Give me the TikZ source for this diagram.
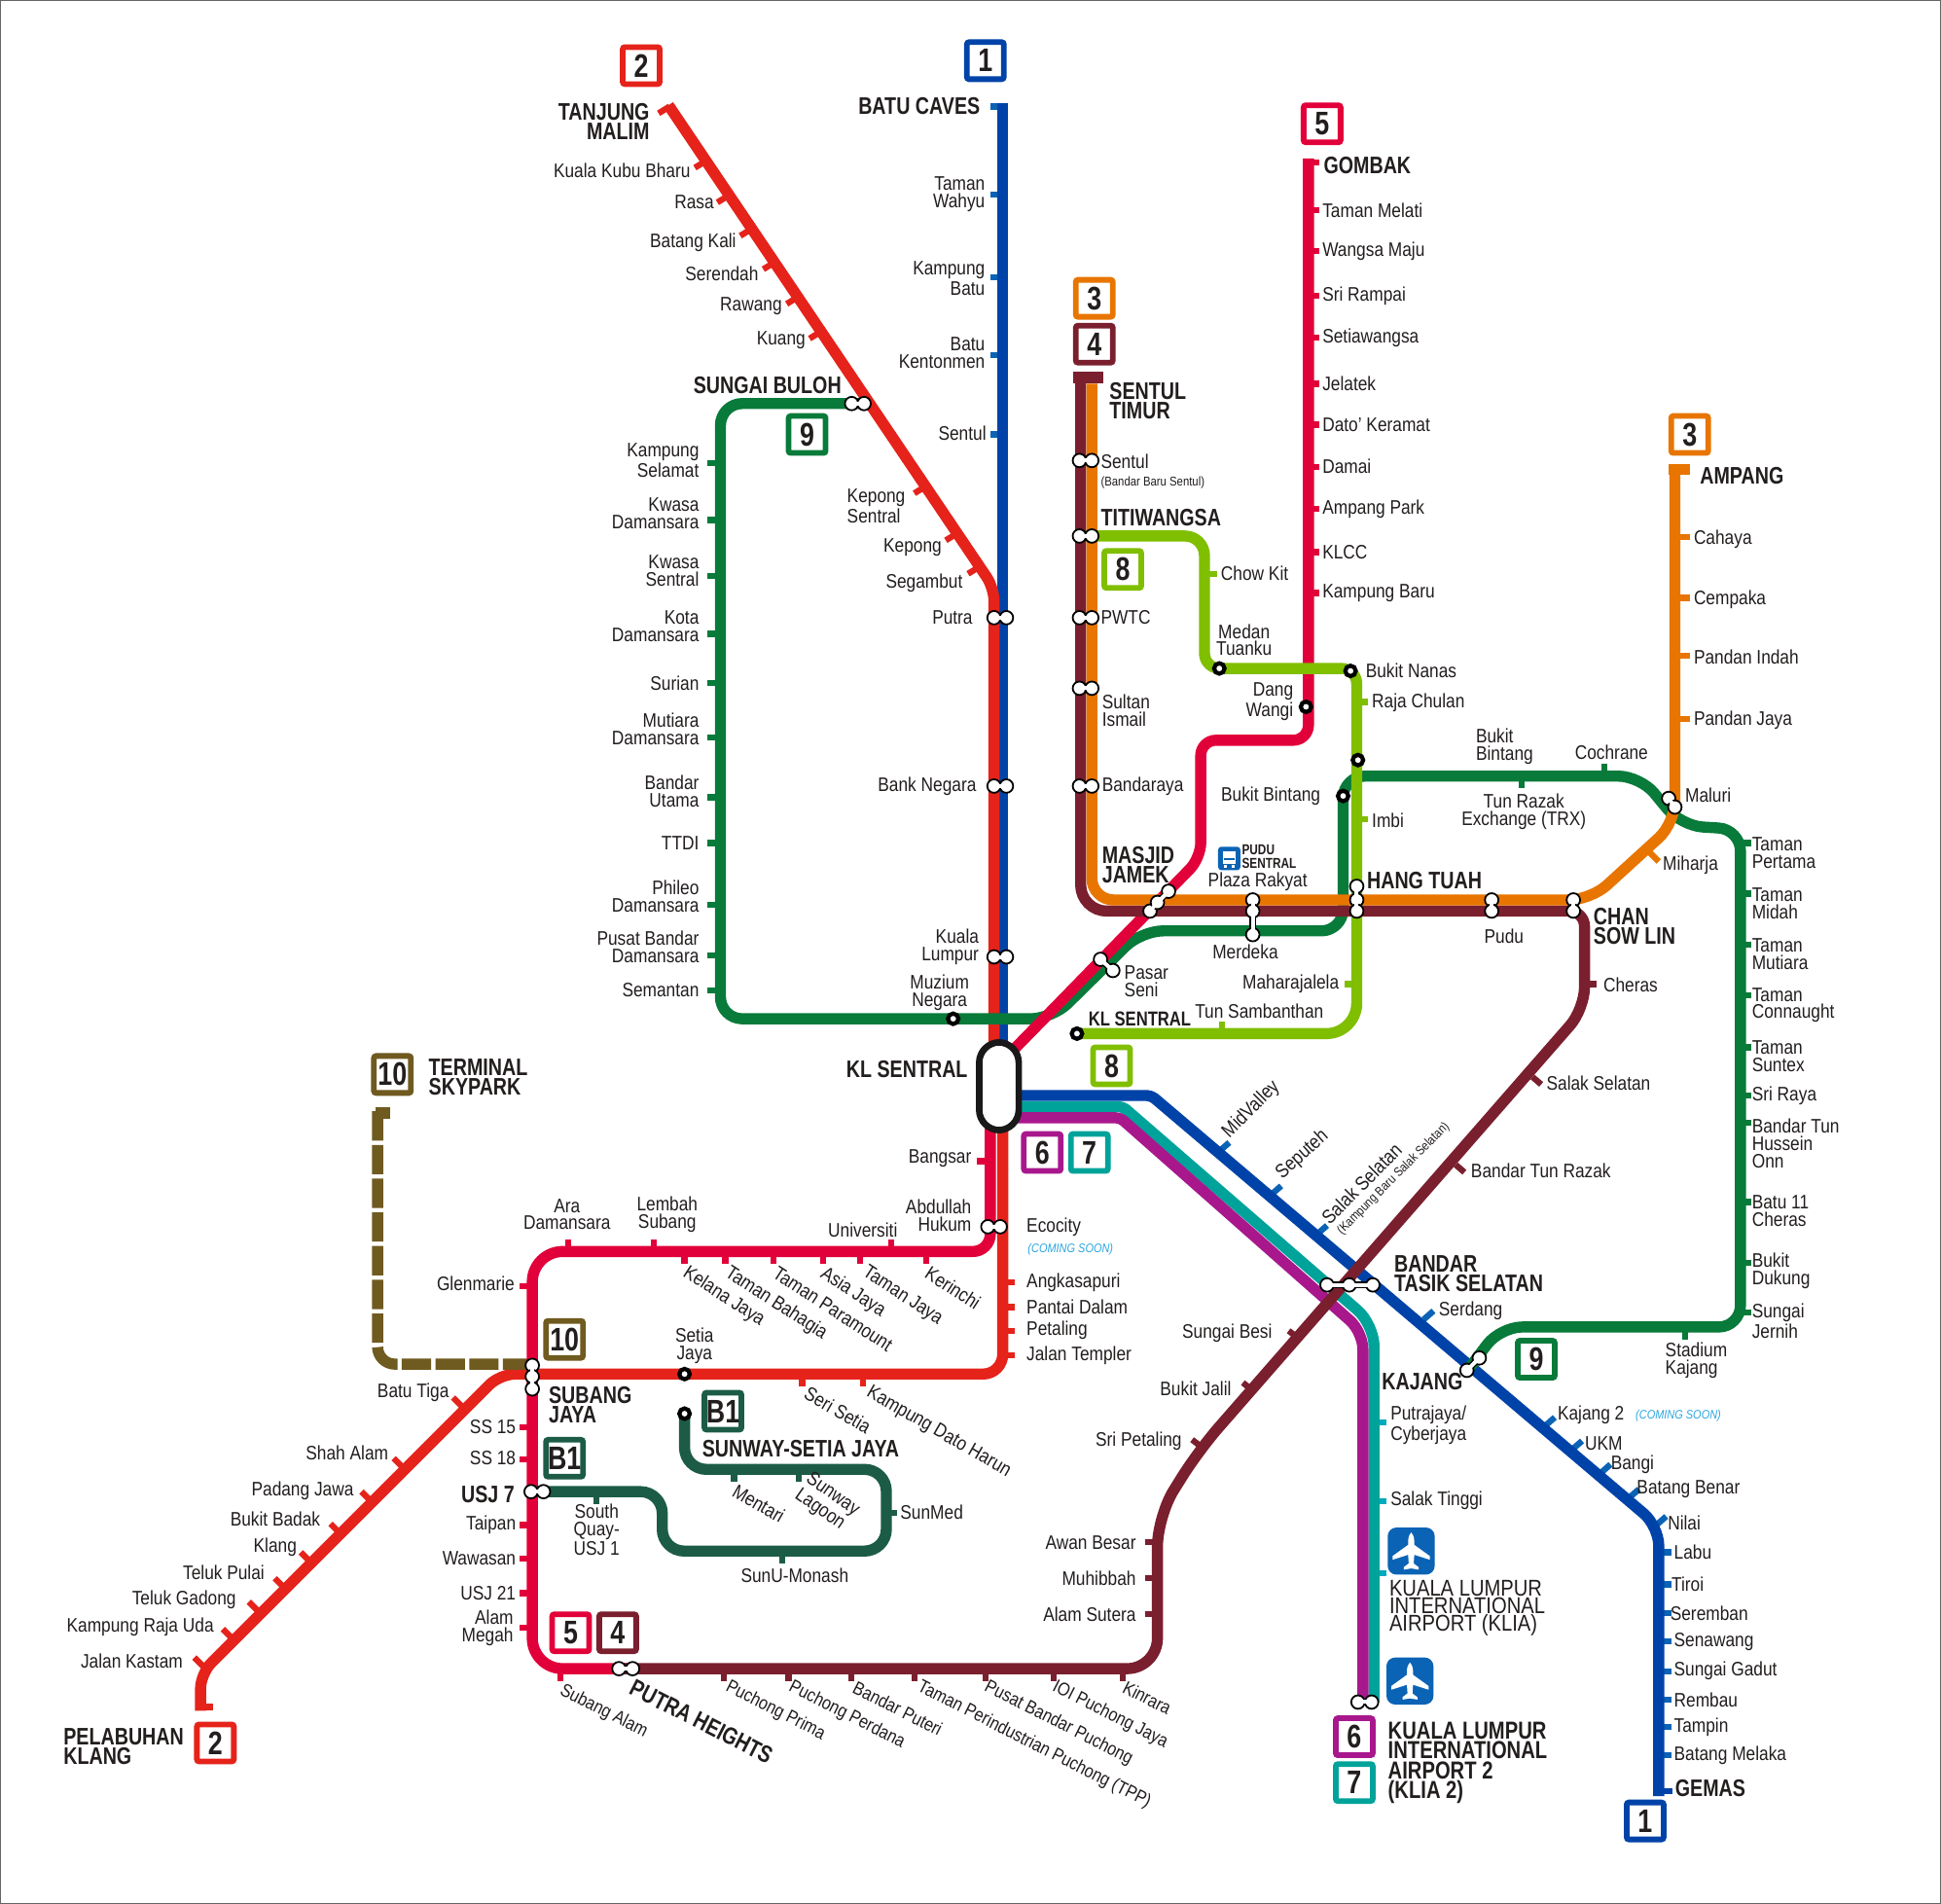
\documentclass[tikz,border=0pt]{standalone}
\usepackage{fontspec}
\setmainfont[FakeStretch=0.86,BoldFeatures={FakeStretch=0.80}]{Liberation Sans}
\definecolor{cBlue}{RGB}{0,67,168}
\definecolor{cRed}{RGB}{229,35,27}
\definecolor{cCrim}{RGB}{226,0,58}
\definecolor{cMaroon}{RGB}{122,31,46}
\definecolor{cOrange}{RGB}{232,117,0}
\definecolor{cGreen}{RGB}{8,122,58}
\definecolor{cLime}{RGB}{128,190,0}
\definecolor{cTeal}{RGB}{0,163,154}
\definecolor{cPurple}{RGB}{168,24,140}
\definecolor{cBrown}{RGB}{111,90,32}
\definecolor{cDark}{RGB}{28,92,70}
\definecolor{cSky}{RGB}{43,166,224}
\definecolor{cIcon}{RGB}{10,99,181}
\definecolor{cTealT}{RGB}{0,170,190}
\definecolor{cText}{RGB}{35,30,30}
\tikzset{
 ln/.style={line width=5.1pt,line join=round},
 tk/.style={line width=2.8pt},
 lb/.style={inner sep=0pt,text=cText,font=\fontsize{9}{8}\selectfont},
 lbb/.style={inner sep=0pt,text=cText,font=\fontsize{8.5}{8}\selectfont},
 bd/.style={inner sep=0pt,text=cText,font=\fontsize{11}{9}\selectfont\bfseries},
 sm/.style={inner sep=0pt,text=cText,font=\fontsize{5.9}{6}\selectfont},
 soon/.style={inner sep=0pt,text=cSky,font=\fontsize{5.7}{6}\selectfont\itshape},
 badge/.style={draw=#1,line width=2.6pt,fill=white,rounded corners=1pt,minimum size=17pt,inner sep=0pt,text=cText,font=\fontsize{15}{15}\selectfont\bfseries},
 ringst/.style={draw=black,fill=white,line width=1.9pt},
}
\newcommand\xR[3]{\node[lb,anchor=west,align=left] at (#1,#2) {#3};}
\newcommand\xL[3]{\node[lb,anchor=east,align=right] at (#1,#2) {#3};}
\newcommand\xC[3]{\node[lb,anchor=center,align=center] at (#1,#2) {#3};}
\newcommand\xT[4]{\node[lb,anchor=west,rotate=#3,align=left] at (#1,#2) {#4};}
\newcommand\xB[3]{\node[lbb,anchor=west,rotate=-27] at (#1,#2) {#3};}
\newcommand\bR[3]{\node[bd,anchor=west,align=left] at (#1,#2) {#3};}
\newcommand\bL[3]{\node[bd,anchor=east,align=right] at (#1,#2) {#3};}
\newcommand\bdg[4]{\node[badge=#3] at (#1,#2) {#4};}
\newcommand\ic[1]{%
 \draw[black,line width=3pt] plot coordinates {#1};
 \draw[draw=none] plot[mark=*,mark size=3.1pt,mark options={draw=black,fill=white,line width=0.8pt}] coordinates {#1};
 \draw[white,line width=1.8pt] plot coordinates {#1};}
\newcommand\rng[2]{\draw[ringst] (#1,#2) circle (2.4pt);}
\newcommand\plane[2]{%
 \fill[cIcon,rounded corners=4pt] (#1-19,#2-19) rectangle (#1+19,#2+19);
 \begin{scope}[shift={(#1,#2)}]
 \fill[white] (0,-15) .. controls (2.5,-12) and (2.5,-10) .. (2.5,-5) -- (15,4) -- (15,7) -- (2.5,3) -- (2,10) -- (6,13) -- (6,15) -- (0,14) -- (-6,15) -- (-6,13) -- (-2,10) -- (-2.5,3) -- (-15,7) -- (-15,4) -- (-2.5,-5) .. controls (-2.5,-10) and (-2.5,-12) .. (0,-15) -- cycle;
 \end{scope}}
\begin{document}
\begin{tikzpicture}[x=0.02cm,y=-0.02cm]
\useasboundingbox (0,0) rectangle (1568,1538);
\fill[white] (0,0) rectangle (1568,1538);
\draw[black!60,line width=0.5pt] (0,0) rectangle (1568,1538);
% --- ticks first
\foreach \y in {86,157,224,287,351} \draw[tk,cIcon] (810,\y) -- ++(-10,0);
\foreach \x/\y in {541/86,570.3/130,588.5/158,607/185,625.6/212,644.5/240,663/268,747.6/393,773/431,791/458} \draw[tk,cRed] (\x,\y) -- ++(-9,5.5);
\foreach \y in {374,420,465,512,552,596,644,681,731,772,800} \draw[tk,cGreen] (582,\y) -- (571,\y);
\foreach \y in {131,170,203,239,273,310,343,377,411,446,479} \draw[tk,cCrim] (1057,\y) -- ++(9,0);
\foreach \y in {434,483,530,581} \draw[tk,cOrange] (1353,\y) -- (1365,\y);
\foreach \y in {681,722,763,804,846,885,907,971,1020,1060} \draw[tk,cGreen] (1406,\y) -- ++(9,0);
\foreach \y in {1254,1280,1303,1326,1350,1373,1395,1418} \draw[tk,cIcon] (1340,\y) -- ++(10,0);
\foreach \x/\y in {985/930,1027/965,1064/997,1150/1066,1248/1152,1270/1171,1293/1190,1316/1210,1338/1232} \draw[tk,cIcon] (\x,\y) -- ++(8,-7);
\draw[tk,cBlue] (1340,1447) -- (1351,1447);
\foreach \y in {1149,1213,1271} \draw[tk,cTealT] (1110,\y) -- ++(10,0);
\foreach \y in {1036,1056,1075,1095} \draw[tk,cRed] (810,\y) -- ++(10,0);
\draw[tk,cCrim] (800,938) -- (789,938);
\foreach \x/\y in {369/1132,321/1181,295/1208,270/1234,246/1257,225/1278,204/1297,183/1319,160/1342} \draw[tk,cRed] (\x+6,\y+6) -- (\x-3,\y-3);
\draw[tk,cRed] (162,1379) -- (172,1379);
\foreach \y in {1039,1153,1179,1232,1259,1287,1315} \draw[tk,cCrim] (430,\y) -- (420,\y);
\foreach \x in {459,528,720} \draw[tk,cCrim] (\x,1011) -- ++(0,-10);
\foreach \x in {553,586,625,665,695,748} \draw[tk,cCrim] (\x,1011) -- ++(0,10);
\draw[tk,cCrim] (453,1348) -- ++(0,10);
\foreach \x in {585,637,688,739,796,851,907} \draw[tk,cMaroon] (\x,1348) -- ++(0,10);
\foreach \y in {1246,1275,1304} \draw[tk,cMaroon] (935,\y) -- (925,\y);
\foreach \x/\y in {1050/1082,1013/1124,972/1170} \draw[tk,cMaroon] (\x,\y) -- ++(-9,-7);
\foreach \x/\y in {1238/870,1176/941} \draw[tk,cMaroon] (\x,\y) -- ++(7,6);
\draw[tk,cMaroon] (1280,795) -- ++(10,0);
\foreach \x/\y in {648/1110,697/1110} \draw[tk,cRed] (\x,\y) -- ++(0,10);
\foreach \x/\y in {593/1187,645/1187} \draw[tk,cDark] (\x,\y) -- ++(0,10);
\draw[tk,cDark] (482,1205) -- ++(0,10);
\draw[tk,cDark] (632,1253) -- ++(0,10);
\draw[tk,cDark] (716,1222) -- ++(9,0);
\draw[tk,cLime] (973,464) -- ++(10,0);
\draw[tk,cLime] (1096,567) -- ++(9,0);
\draw[tk,cLime] (1096,662) -- ++(9,0);
\draw[tk,cLime] (1096,795) -- ++(-10,0);
\draw[tk,cLime] (987,835) -- ++(0,-10);
\draw[tk,cGreen] (1229,627) -- ++(0,10);
\draw[tk,cGreen] (1296,627) -- ++(0,-10);
\draw[tk,cGreen] (1361,1072) -- ++(0,10);
\draw[tk,cOrange] (1332,688) -- ++(8,8);
% --- lines
\draw[ln,cBlue] (810,83) -- (810,850);
\draw[ln,cBlue] (815,885) [rounded corners=2pt] -- (930,885) [rounded corners=9pt] -- (1340,1233) -- (1340,1451);
\draw[ln,cRed,rounded corners=6pt] (540,85) -- (803,475) -- (803,850);
\draw[ln,cRed] (810,905) [rounded corners=9pt] -- (810,1110) [rounded corners=7pt] -- (404,1110) -- (162,1352) -- (162,1382);
\draw[ln,cTeal] (815,894) [rounded corners=2pt] -- (907,894) [rounded corners=10pt] -- (1110,1070) -- (1110,1375);
\draw[ln,cPurple] (815,903) [rounded corners=2pt] -- (905,903) [rounded corners=8pt] -- (1101,1076) -- (1101,1375);
\draw[ln,cBrown,dash pattern=on 13.5pt off 2pt,rounded corners=8pt] (430,1102) -- (305,1102) -- (305,895);
\draw[ln,cBrown] (303,899) -- (315,899);
\draw[ln,cGreen,rounded corners=10pt] (700,326) -- (582,326) -- (582,823) -- (850,823) -- (922,752) -- (1085,752) -- (1085,627) -- (1325,627) -- (1358,667) -- (1406,670) -- (1406,1072) -- (1212,1072) -- (1187,1105);
\draw[ln,cCrim,rounded corners=7pt] (1057,128) -- (1057,598) -- (970,598) -- (970,693) -- (812,855);
\draw[ln,cCrim] (800,905) [rounded corners=8pt] -- (800,1011) [rounded corners=14pt] -- (430,1011) -- (430,1348) -- (510,1348);
\draw[ln,cDark,rounded corners=10pt] (430,1205) -- (535,1205) -- (535,1253) -- (716,1253) -- (716,1187) -- (553,1187) -- (553,1143);
\draw[ln,cMaroon] (500,1348) [rounded corners=14pt] -- (935,1348) -- (935,1225) -- (968,1172) [rounded corners=10pt] -- (1280,815) [rounded corners=7pt] -- (1280,736) [rounded corners=12pt] -- (873,736) -- (873,303);
\draw[ln,cMaroon] (867,305) -- (891,305);
\draw[ln,cOrange,rounded corners=10pt] (882,310) -- (882,727) -- (1285,727) -- (1353,665) -- (1353,378);
\draw[ln,cOrange] (1348,379) -- (1365,379);
\draw[ln,cLime] (870,835) [rounded corners=14pt] -- (1096,835) [rounded corners=7pt] -- (1096,540) -- (973,540) [rounded corners=9pt] -- (973,433) -- (877,433);
% --- KL Sentral
\draw[line width=3pt,draw=black!90,fill=white,rounded corners=9.4pt] (791,842) rectangle (823,913);
% --- interchanges
\ic{(688,326)(698,326)}
\ic{(803,499)(813,499)}
\ic{(803,635)(813,635)}
\ic{(803,773)(813,773)}
\ic{(798,991)(808,991)}
\ic{(872,372)(882,372)}
\ic{(872,433)(882,433)}
\ic{(872,499)(882,499)}
\ic{(872,556)(882,556)}
\ic{(872,635)(882,635)}
\ic{(929,736)(935,729)(944,720)}
\ic{(1096,716)(1096,727)(1096,736)}
\ic{(1012,727)(1012,736)(1012,755)}
\ic{(889,775)(899,784)}
\ic{(1205,727)(1205,736)}
\ic{(1271,727)(1271,736)}
\ic{(1348,645)(1353,652)}
\ic{(1185,1107)(1195,1097)}
\ic{(1072,1038)(1090,1038)(1109,1038)}
\ic{(1097,1375)(1108,1375)}
\ic{(430,1103)(430,1112)(430,1122)}
\ic{(429,1205)(439,1205)}
\ic{(500,1348)(511,1348)}
\rng{985}{540}\rng{1091}{542}\rng{1055}{571}\rng{1097}{614}\rng{1085}{643}
\rng{870}{835}\rng{770}{823}\rng{553}{1110}\rng{553}{1142}
% --- badges
\bdg{518}{53}{cRed}{2}\bdg{796}{49}{cBlue}{1}\bdg{1068}{100}{cCrim}{5}
\bdg{884}{241}{cOrange}{3}\bdg{884}{278}{cMaroon}{4}\bdg{652}{351}{cGreen}{9}
\bdg{907}{460}{cLime}{8}\bdg{1365}{351}{cOrange}{3}\bdg{898}{861}{cLime}{8}
\bdg{842}{931}{cPurple}{6}\bdg{880}{931}{cTeal}{7}\bdg{317}{868}{cBrown}{10}
\bdg{456}{1082}{cBrown}{10}\bdg{584}{1140}{cDark}{B1}\bdg{456}{1178}{cDark}{B1}
\bdg{461}{1319}{cCrim}{5}\bdg{499}{1319}{cMaroon}{4}\bdg{174}{1408}{cRed}{2}
\bdg{1094}{1403}{cPurple}{6}\bdg{1094}{1440}{cTeal}{7}\bdg{1241}{1098}{cGreen}{9}
\bdg{1329}{1471}{cBlue}{1}
% --- icons
\plane{1140}{1253}\plane{1139}{1358}
\fill[cIcon,rounded corners=1.5pt] (984,684) rectangle (1002,703);
\fill[white] (988,688) rectangle (998,698);
\fill[white] (989,699) rectangle (991,701);
\fill[white] (995,699) rectangle (997,701);
\fill[cIcon] (989,693.5) rectangle (997,695);
% --- labels line 2
\bL{525}{98}{TANJUNG\\MALIM}
\xL{558}{138}{Kuala Kubu Bharu}\xL{577}{163}{Rasa}\xL{595}{196}{Batang Kali}
\xL{613}{221}{Serendah}\xL{632}{247}{Rawang}\xL{651}{275}{Kuang}
\xR{684}{409}{Kepong\\Sentral}\xL{761}{442}{Kepong}\xL{778}{471}{Segambut}\xL{786}{499}{Putra}
% line 1
\bL{792}{86}{BATU CAVES}
\xL{796}{157}{Taman\\Wahyu}\xL{796}{225}{Kampung\\Batu}\xL{796}{285}{Batu\\Kentonmen}\xL{797}{350}{Sentul}
\xL{789}{635}{Bank Negara}\xL{791}{765}{Kuala\\Lumpur}\xC{759}{802}{Muzium\\Negara}
% line 9 left
\bL{680}{311}{SUNGAI BULOH}
\xL{565}{372}{Kampung\\Selamat}\xL{565}{415}{Kwasa\\Damansara}\xL{565}{461}{Kwasa\\Sentral}
\xL{565}{506}{Kota\\Damansara}\xL{565}{552}{Surian}\xL{565}{589}{Mutiara\\Damansara}
\xL{565}{639}{Bandar\\Utama}\xL{565}{681}{TTDI}\xL{565}{724}{Phileo\\Damansara}
\xL{565}{765}{Pusat Bandar\\Damansara}\xL{565}{800}{Semantan}
% line 3/4
\bR{896}{324}{SENTUL\\TIMUR}\xR{889}{373}{Sentul}
\node[sm,anchor=west] at (889,390) {(Bandar Baru Sentul)};
\bR{889}{418}{TITIWANGSA}\xR{889}{499}{PWTC}\xR{890}{574}{Sultan\\Ismail}\xR{890}{635}{Bandaraya}
\bR{890}{699}{MASJID\\JAMEK}
% line 8
\xR{986}{463}{Chow Kit}\xC{1005}{517}{Medan\\Tuanku}\xR{1103}{542}{Bukit Nanas}\xR{1108}{568}{Raja Chulan}
\xR{1108}{663}{Imbi}\xL{1082}{795}{Maharajalela}\xR{965}{817}{Tun Sambanthan}
\node[bd,anchor=west,font=\fontsize{9.3}{9}\selectfont\bfseries] at (879,823) {KL SENTRAL};
\bR{1104}{711}{HANG TUAH}
% line 5
\bR{1069}{134}{GOMBAK}
\xR{1068}{170}{Taman Melati}\xR{1068}{203}{Wangsa Maju}\xR{1068}{239}{Sri Rampai}\xR{1068}{273}{Setiawangsa}
\xR{1068}{310}{Jelatek}\xR{1068}{343}{Dato' Keramat}\xR{1068}{377}{Damai}\xR{1068}{411}{Ampang Park}
\xR{1068}{446}{KLCC}\xR{1068}{479}{Kampung Baru}\xL{1045}{567}{Dang\\Wangi}\xL{1067}{643}{Bukit Bintang}
% east
\xR{1192}{603}{Bukit\\Bintang}\xR{1272}{608}{Cochrane}\xC{1231}{656}{Tun Razak\\Exchange (TRX)}
\xR{1361}{642}{Maluri}\xR{1343}{699}{Miharja}\bR{1373}{384}{AMPANG}
\xR{1368}{436}{Cahaya}\xR{1368}{484}{Cempaka}\xR{1368}{531}{Pandan Indah}\xR{1368}{582}{Pandan Jaya}
\xC{1016}{712}{Plaza Rakyat}
\node[bd,anchor=west,font=\fontsize{6.6}{6}\selectfont\bfseries,align=left] at (1003,692) {PUDU\\SENTRAL};
\xC{1006}{769}{Merdeka}\xR{908}{793}{Pasar\\Seni}\xC{1215}{756}{Pudu}\bR{1287}{748}{CHAN\\SOW LIN}
\xR{1295}{796}{Cheras}\xR{1249}{875}{Salak Selatan}\xR{1188}{946}{Bandar Tun Razak}
\xR{1415}{689}{Taman\\Pertama}\xR{1415}{730}{Taman\\Midah}\xR{1415}{771}{Taman\\Mutiara}
\xR{1415}{812}{Taman\\Connaught}\xR{1415}{853}{Taman\\Suntex}\xR{1415}{885}{Sri Raya}
\xR{1415}{924}{Bandar Tun\\Hussein\\Onn}\xR{1415}{978}{Batu 11\\Cheras}\xR{1415}{1027}{Bukit\\Dukung}
\xR{1415}{1067}{Sungai\\Jernih}\xR{1345}{1099}{Stadium\\Kajang}
% KL Sentral
\bL{782}{864}{KL SENTRAL}
% south east
\bR{1116}{1116}{KAJANG}\xR{1162}{1059}{Serdang}\bR{1126}{1029}{BANDAR\\TASIK SELATAN}
\xT{990}{917}{45}{MidValley}\xT{1033}{950}{42}{Seputeh}\xT{1070}{986}{45}{Salak Selatan}
\node[sm,anchor=west,rotate=45] at (1082,996) {(Kampung Baru Salak Selatan)};
\xR{1258}{1143}{Kajang 2}
\node[soon,anchor=west] at (1321,1144) {(COMING SOON)};
\xR{1280}{1166}{UKM}\xR{1301}{1183}{Bangi}\xR{1322}{1203}{Batang Benar}\xR{1347}{1230}{Nilai}
\xR{1352}{1254}{Labu}\xR{1350}{1280}{Tiroi}\xR{1349}{1303}{Seremban}\xR{1352}{1326}{Senawang}
\xR{1352}{1350}{Sungai Gadut}\xR{1352}{1373}{Rembau}\xR{1352}{1395}{Tampin}\xR{1352}{1418}{Batang Melaka}
\bR{1353}{1445}{GEMAS}
\xR{1123}{1151}{Putrajaya/\\Cyberjaya}\xR{1123}{1212}{Salak Tinggi}
\node[lb,anchor=west,align=left,font=\fontsize{10.5}{8}\selectfont] at (1122,1299) {KUALA LUMPUR\\INTERNATIONAL\\AIRPORT (KLIA)};
\node[bd,anchor=west,align=left,font=\fontsize{11.3}{9.2}\selectfont\bfseries] at (1121,1424) {KUALA LUMPUR\\INTERNATIONAL\\AIRPORT 2\\(KLIA 2)};
\xL{1028}{1077}{Sungai Besi}\xL{995}{1122}{Bukit Jalil}\xL{955}{1164}{Sri Petaling}
\xL{918}{1246}{Awan Besar}\xL{918}{1275}{Muhibbah}\xL{918}{1304}{Alam Sutera}
% bottom
\xB{453}{1365}{Subang Alam}
\node[bd,anchor=west,rotate=-27] at (510,1362) {PUTRA HEIGHTS};
\xB{587}{1362}{Puchong Prima}\xB{638}{1362}{Puchong Perdana}\xB{690}{1362}{Bandar Puteri}
\xB{742}{1362}{Taman Perindustrian Puchong (TPP)}\xB{796}{1362}{Pusat Bandar Puchong}
\xB{851}{1362}{IOI Puchong Jaya}\xB{908}{1362}{Kinrara}
% west
\xL{416}{1037}{Glenmarie}\xL{417}{1153}{SS 15}\xL{417}{1178}{SS 18}\bL{416}{1207}{USJ 7}
\xL{417}{1232}{Taipan}\xL{417}{1259}{Wawasan}\xL{417}{1287}{USJ 21}\xL{415}{1315}{Alam\\Megah}
\bR{443}{1135}{SUBANG\\JAYA}
\xC{482}{1236}{South\\Quay-\\USJ 1}\xC{642}{1273}{SunU-Monash}\xR{727}{1222}{SunMed}
\xT{593}{1203}{-30}{Mentari}
\node[lb,rotate=-35,align=left] at (668,1214) {Sunway\\Lagoon};
\bR{567}{1170}{SUNWAY-SETIA JAYA}\xC{561}{1087}{Setia\\Jaya}
\xT{651}{1124}{-30}{Seri Setia}\xT{701}{1124}{-30}{Kampung Dato Harun}
\xC{458}{981}{Ara\\Damansara}\xC{539}{981}{Lembah\\Subang}\xC{697}{994}{Universiti}\xL{785}{982}{Abdullah\\Hukum}
\xT{553}{1027}{-33}{Kelana Jaya}\xT{587}{1027}{-33}{Taman Bahagia}\xT{626}{1027}{-33}{Taman Paramount}
\xT{664}{1028}{-33}{Asia Jaya}\xT{698}{1027}{-33}{Taman Jaya}\xT{749}{1027}{-33}{Kerinchi}
\xR{829}{991}{Ecocity}
\node[soon,anchor=west] at (830,1009) {(COMING SOON)};
\xR{829}{1036}{Angkasapuri}\xR{829}{1056}{Pantai Dalam}\xR{829}{1075}{Petaling}\xR{829}{1095}{Jalan Templer}
\xL{785}{936}{Bangsar}
\xL{363}{1125}{Batu Tiga}\xL{314}{1174}{Shah Alam}\xL{286}{1204}{Padang Jawa}\xL{259}{1227}{Bukit Badak}
\xL{240}{1250}{Klang}\xL{214}{1270}{Teluk Pulai}\xL{191}{1292}{Teluk Gadong}\xL{173}{1314}{Kampung Raja Uda}\xL{148}{1342}{Jalan Kastam}
\bR{51}{1411}{PELABUHAN\\KLANG}\bR{346}{870}{TERMINAL\\SKYPARK}
\end{tikzpicture}
\end{document}
